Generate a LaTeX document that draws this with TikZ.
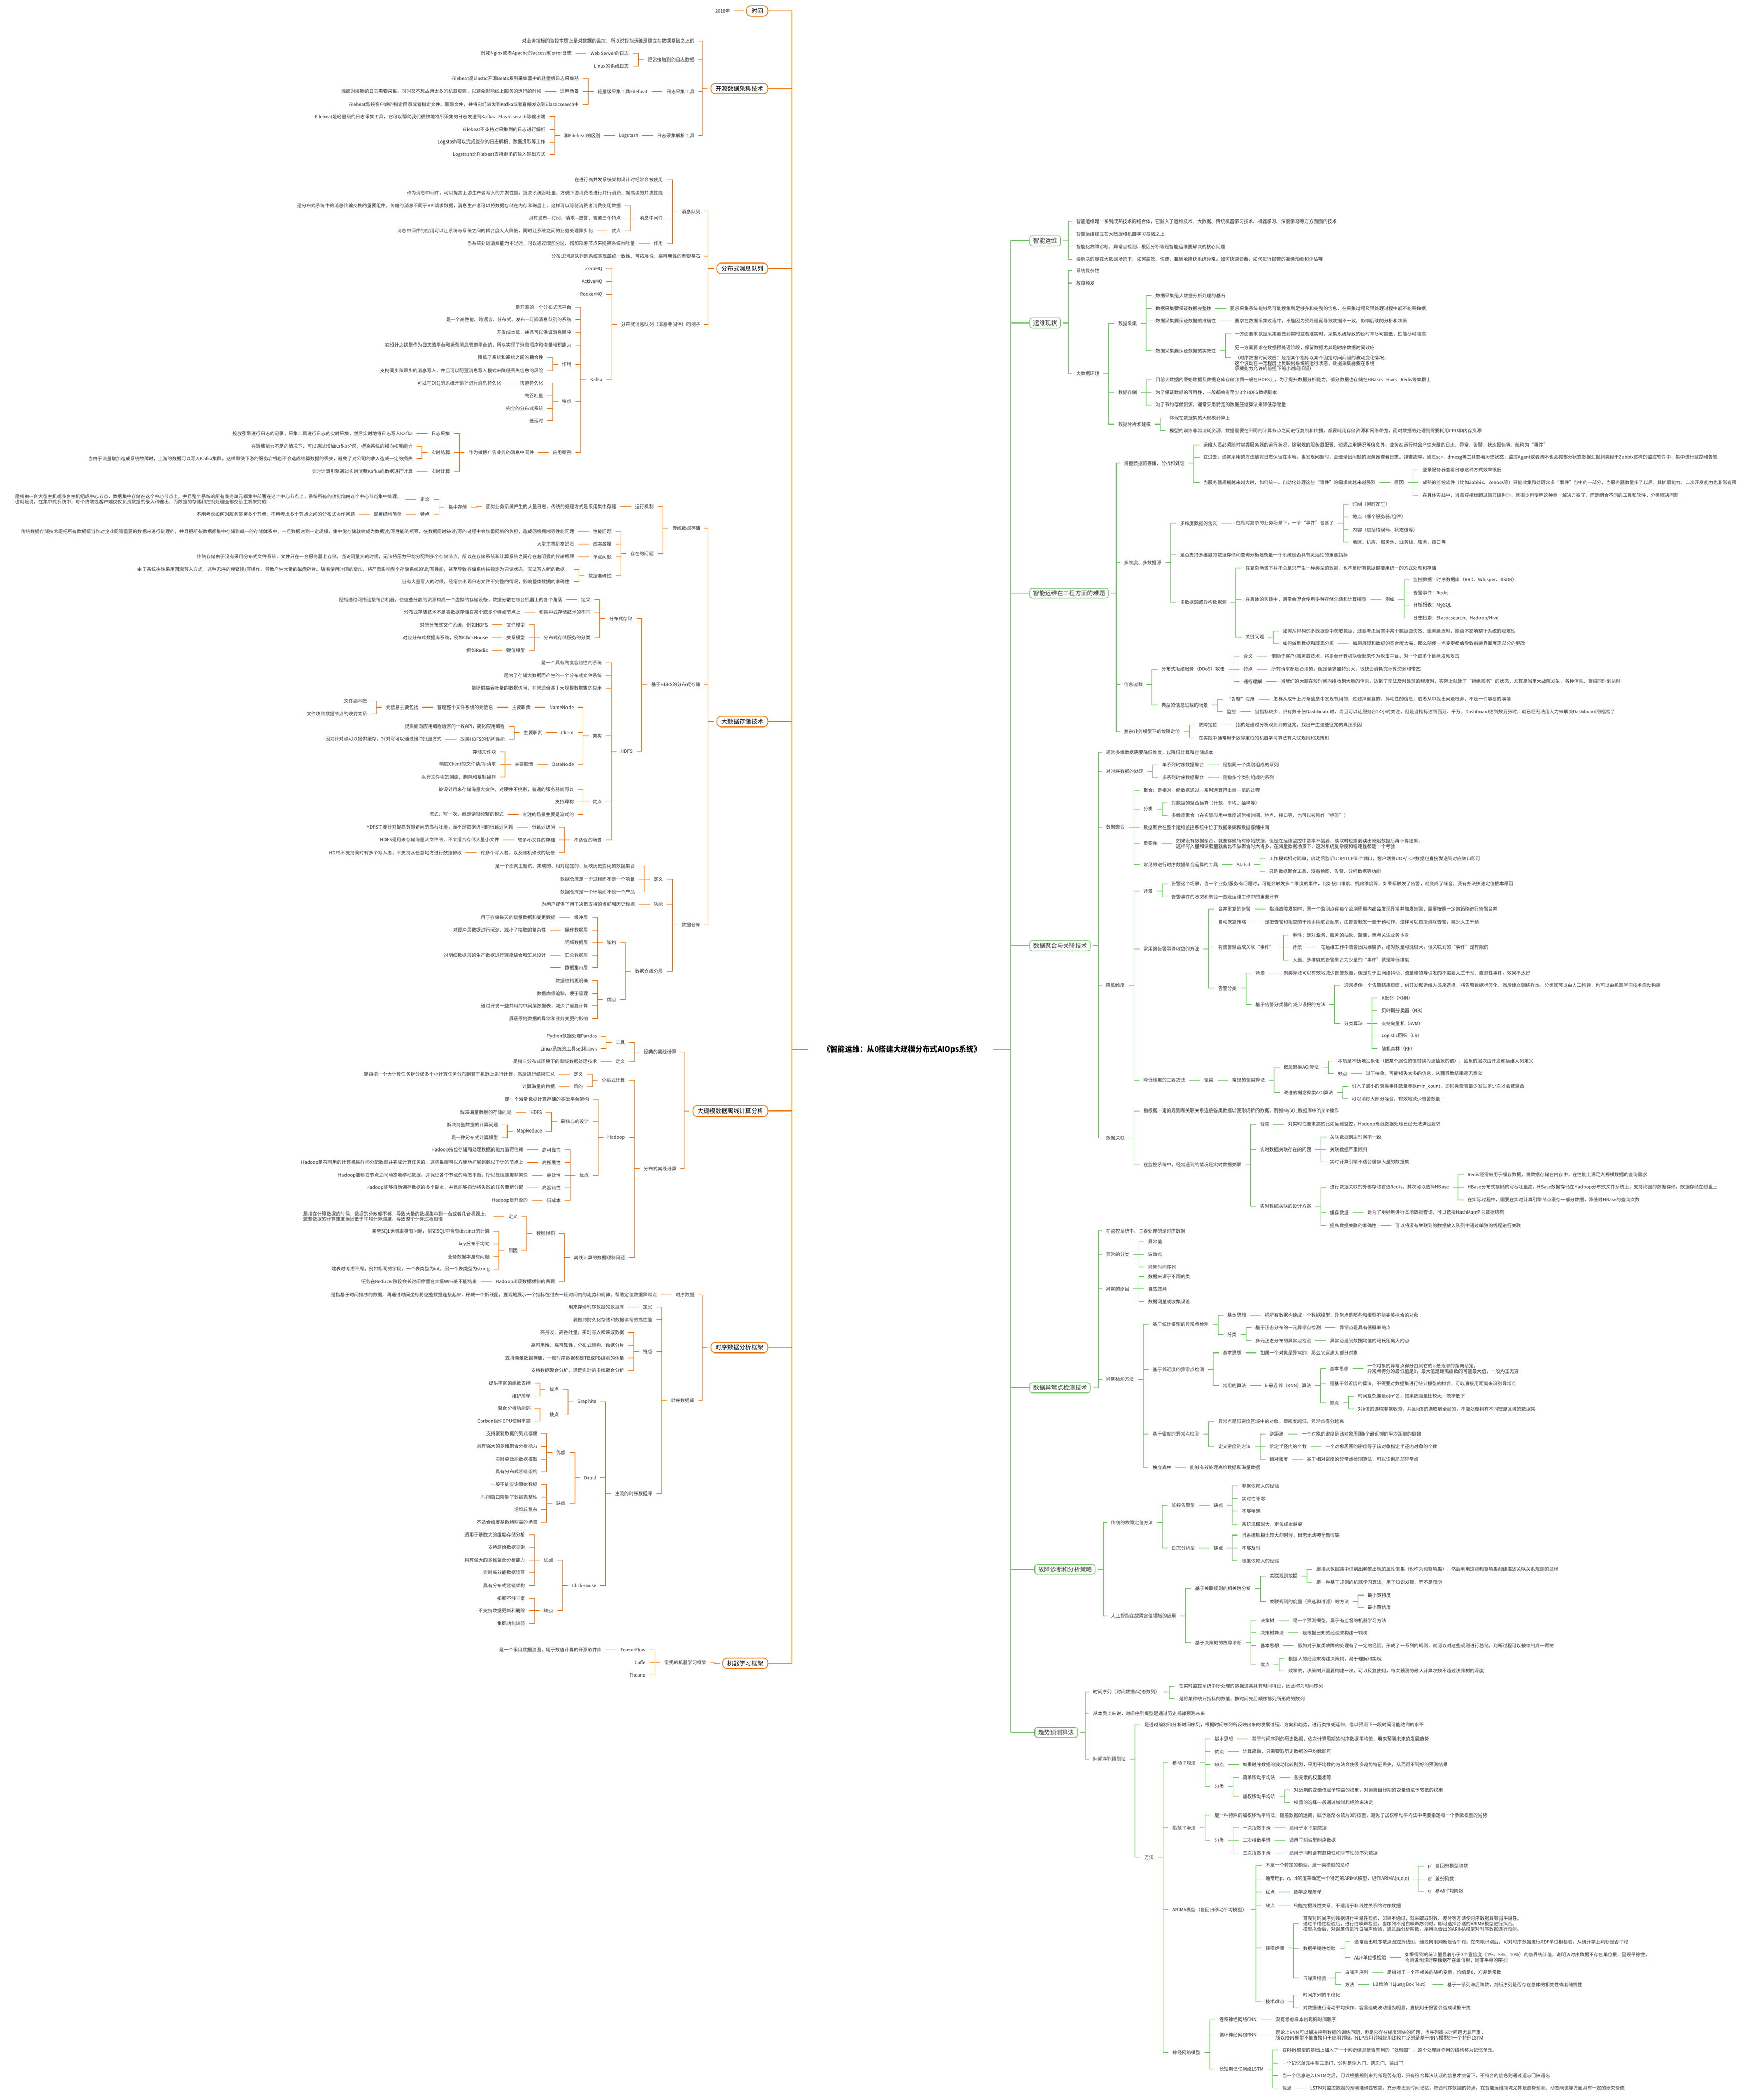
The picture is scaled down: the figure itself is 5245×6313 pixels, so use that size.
\documentclass[tikz,border=0pt]{standalone}
\usepackage{fontspec}
\setmainfont{Noto Sans CJK SC}
\usetikzlibrary{calc}
\definecolor{org}{HTML}{F07F1F}
\definecolor{grn}{HTML}{78C86E}
\definecolor{txt}{HTML}{333333}
\tikzset{
  lt/.style={inner sep=0pt, font=\fontsize{14}{16}\selectfont, text=txt, align=left},
  ocon/.style={draw=org, line width=2pt},
  gcon/.style={draw=grn, line width=2pt},
  otrunk/.style={draw=org, line width=2.5pt},
  gtrunk/.style={draw=grn, line width=2.5pt},
  lbox/.style={draw=org, line width=2.5pt, rounded corners=13pt, fill=white, font=\fontsize{18}{20}\selectfont, inner xsep=14pt, inner ysep=0pt, minimum height=32pt, text=black},
  rbox/.style={draw=grn, line width=2pt, rounded corners=7pt, fill=white, font=\fontsize{18}{20}\selectfont, inner xsep=10pt, inner ysep=0pt, minimum height=30pt, text=txt},
  titlenode/.style={font=\fontsize{22}{24}\selectfont\bfseries, text=black, inner sep=0pt}
}
\newcommand\lchild[5][56]{%
  \coordinate (tmpy) at (0,#4);
  \path (#3.west) ++(-#1,0) coordinate (tmpx);
  \node[lt,anchor=east] (#2) at (tmpx |- tmpy) {#5};
  \draw[ocon] (#3.west) ++(-#1/2+16,0) -- ++(-16,0) |- ($(#2.east)+(12,0)$);
}
\newcommand\rchild[5][56]{%
  \coordinate (tmpy) at (0,#4);
  \path (#3.east) ++(#1,0) coordinate (tmpx);
  \node[lt,anchor=west] (#2) at (tmpx |- tmpy) {#5};
  \draw[gcon] (#3.east) ++(#1/2-16,0) -- ++(16,0) |- ($(#2.west)+(-12,0)$);
}
\begin{document}
\begin{tikzpicture}[x=1pt,y=-1pt]
\useasboundingbox (0,0) rectangle (5245,6313);
\fill[white] (0,0) rectangle (5245,6313);

% ---------- root and trunks ----------
\node[titlenode] (root) at (2712,3155) {《智能运维：从0搭建大规模分布式AIOps系统》};
\draw[otrunk] (2380,33) -- (2380,5000);
\draw[gtrunk] (3039,724) -- (3039,5208);
\draw[otrunk] ($(root.west)+(-45,0)$) -- (2380,3155);
\draw[gtrunk] ($(root.east)+(38,0)$) -- (3039,3155);

% ---------- left branches ----------
\node[lbox,anchor=east] (Lt) at (2310,33) {时间};
\node[lbox,anchor=east] (La) at (2310,266) {开源数据采集技术};
\node[lbox,anchor=east] (Lb) at (2310,807) {分布式消息队列};
\node[lbox,anchor=east] (Lc) at (2310,2169) {大数据存储技术};
\node[lbox,anchor=east] (Ld) at (2310,3340) {大规模数据离线计算分析};
\node[lbox,anchor=east] (Le) at (2310,4051) {时序数据分析框架};
\node[lbox,anchor=east] (Lf) at (2310,5000) {机器学习框架};
\foreach \n in {Lt,La,Lb,Lc,Ld,Le,Lf}{\draw[otrunk] (\n.east) -- (\n.east -| 2380,0);}

\lchild[48]{t1}{Lt}{33}{2018年}

% 开源数据采集技术
\lchild[48]{a1}{La}{123}{对业务指标的监控本质上是对数据的监控，所以说智能运维是建立在数据基础之上的}
\lchild[48]{a2}{La}{180}{经常接触到的日志数据}
\lchild{a21}{a2}{161}{Web Server的日志}
\lchild{a211}{a21}{161}{例如Nginx或者Apache的access和error日志}
\lchild{a22}{a2}{199}{Linux的系统日志}
\lchild[48]{a3}{La}{275}{日志采集工具}
\lchild{a31}{a3}{275}{轻量级采集工具Filebeat}
\lchild{a311}{a31}{237}{Filebeat是Elastic开源Beats系列采集器中的轻量级日志采集器}
\lchild{a312}{a31}{275}{适用场景}
\lchild{a3121}{a312}{275}{当面对海量的日志需要采集，同时又不想占用太多的机器资源，以避免影响线上服务的运行的时候}
\lchild{a313}{a31}{313}{Filebeat监控客户端的指定目录或者指定文件、跟踪文件，并将它们转发到Kafka或者直接发送到Elasticsearch中}
\lchild[48]{a4}{La}{408}{日志采集解析工具}
\lchild{a41}{a4}{408}{Logstash}
\lchild{a411}{a41}{408}{和Filebeat的区别}
\lchild{a4111}{a411}{351}{Filebeat是轻量级的日志采集工具，它可以帮助我们很快地将所采集的日志发送到Kafka、Elasticserach等输出端}
\lchild{a4112}{a411}{389}{Filebeat不支持对采集到的日志进行解析}
\lchild{a4113}{a411}{427}{Logstash可以完成复杂的日志解析、数据提取等工作}
\lchild{a4114}{a411}{465}{Logstash比Filebeat支持更多的输入输出方式}

% 分布式消息队列
\lchild[48]{b1}{Lb}{637}{消息队列}
\lchild{b11}{b1}{541}{在进行高并发系统架构设计时经常会被使用}
\lchild{b12}{b1}{580}{作为消息中间件，可以提高上游生产者写入的并发性能，提高系统吞吐量，方便下游消费者进行并行消费，提高读的并发性能}
\lchild{b13}{b1}{656}{消息中间件}
\lchild{b131}{b13}{618}{是分布式系统中的消息传输交换的重要组件，传输的消息不同于API请求数据，消息生产者可以将数据存储在内存和磁盘上，这样可以等待消费者消费使用数据}
\lchild{b132}{b13}{656}{具有发布—订阅、请求—应答、管道三个特点}
\lchild{b133}{b13}{694}{优点}
\lchild{b1331}{b133}{694}{消息中间件的应用可以让系统与系统之间的耦合度大大降低，同时让系统之间的业务处理异步化}
\lchild{b14}{b1}{732}{作用}
\lchild{b141}{b14}{732}{当系统处理消费能力不足时，可以通过增加分区、增加部署节点来提高系统吞吐量}
\lchild[48]{b2}{Lb}{770}{分布式消息队列是系统实现最终一致性、可拓展性、高可用性的重要基石}
\lchild[48]{b3}{Lb}{975}{分布式消息队列（消息中间件）的例子}
\lchild{b31}{b3}{808}{ZeroMQ}
\lchild{b32}{b3}{847}{ActiveMQ}
\lchild{b33}{b3}{885}{RockerMQ}
\lchild{b34}{b3}{1141}{Kafka}
\lchild{k1}{b34}{923}{是开源的一个分布式流平台}
\lchild{k2}{b34}{961}{是一个高性能、跨语言、分布式、发布—订阅消息队列的系统}
\lchild{k3}{b34}{999}{开发成本低，并且可以保证消息顺序}
\lchild{k4}{b34}{1037}{在设计之初是作为日志流平台和运营消息管道平台的，所以实现了消息顺序和海量堆积能力}
\lchild{k5}{b34}{1095}{作用}
\lchild{k51}{k5}{1075}{降低了系统和系统之间的耦合性}
\lchild{k52}{k5}{1114}{支持同步和异步的消息写入，并且可以配置消息写入模式来降低丢失信息的风险}
\lchild{k6}{b34}{1208}{特点}
\lchild{k61}{k6}{1152}{快速持久化}
\lchild{k611}{k61}{1152}{可以在O(1)的系统开销下进行消息持久化}
\lchild{k62}{k6}{1190}{高吞吐量}
\lchild{k63}{k6}{1227}{完全的分布式系统}
\lchild{k64}{k6}{1265}{低延时}
\lchild{k7}{b34}{1360}{应用案例}
\lchild{k71}{k7}{1360}{作为微博广告业务的消息中间件}
\lchild{k711}{k71}{1303}{日志采集}
\lchild{k7111}{k711}{1303}{投放引擎进行日志的记录，采集工具进行日志的实时采集，然后实时地将日志写入Kafka}
\lchild{k712}{k71}{1360}{实时结算}
\lchild{k7121}{k712}{1341}{在消费能力不足的情况下，可以通过增加Kafka分区，提高系统的横向拓展能力}
\lchild{k7122}{k712}{1379}{当由于流量增加造成系统故障时，上游的数据可以写入Kafka集群，这样即使下游的服务宕机也不会造成结算数据的丢失，避免了对公司的收入造成一定的损失}
\lchild{k713}{k71}{1417}{实时计算}
\lchild{k7131}{k713}{1417}{实时计算引擎通过实时消费Kafka的数据进行计算}

% 大数据存储技术
\lchild[48]{c1}{Lc}{1587}{传统数据存储}
\lchild{c11}{c1}{1523}{运行机制}
\lchild{c111}{c11}{1523}{面对业务系统产生的大量日志，传统的处理方式是采用集中存储}
\lchild{c1111}{c111}{1524}{集中存储}
\lchild{c11111}{c1111}{1501}{定义}
\lchild{c111111}{c11111}{1501}{是指由一台大型主机或多台主机组成中心节点，数据集中存储在这个中心节点上，并且整个系统的所有业务单元都集中部署在这个中心节点上，系统所有的功能均由这个中心节点集中处理。\\也就是说，在集中式系统中，每个终端或客户端仅仅负责数据的录入和输出，而数据的存储和控制处理全部交给主机来完成}
\lchild{c11112}{c1111}{1546}{特点}
\lchild{c111121}{c11112}{1546}{部署结构简单}
\lchild{c1111211}{c111121}{1546}{不用考虑如何对服务部署多个节点，不用考虑多个节点之间的分布式协作问题}
\lchild{c12}{c1}{1664}{存在的问题}
\lchild{c121}{c12}{1598}{性能问题}
\lchild{c1211}{c121}{1598}{传统数据存储技术是把所有数据都当作对企业同等重要的数据来进行处理的，并且把所有数据都集中存储到单一的存储体系中，一旦数据达到一定规模，集中化存储就会成为数据读/写性能的瓶颈，在数据同时被读/写的过程中会加重网络的负担，造成网络拥堵等性能问题}
\lchild{c122}{c12}{1636}{成本激增}
\lchild{c1221}{c122}{1636}{大型主机价格昂贵}
\lchild{c123}{c12}{1674}{单点问题}
\lchild{c1231}{c123}{1674}{传统存储由于没有采用分布式文件系统，文件只在一台服务器上存储，当访问量大的时候，无法将压力平均分配到多个存储节点，所以在存储系统和计算系统之间存在着明显的传输瓶颈}
\lchild{c124}{c12}{1731}{数据准确性}
\lchild{c1241}{c124}{1712}{由于系统往往采用回滚写入方式，这种无序的频繁读/写操作，导致产生大量的磁盘碎片。随着使用时间的增加，将严重影响整个存储系统的读/写性能，甚至导致存储系统被锁定为只读状态，无法写入新的数据。}
\lchild{c1242}{c124}{1749}{当有大量写入的时候，经常会出现日志文件不完整的情况，影响整体数据的准确性}
\lchild[48]{c2}{Lc}{2059}{基于HDFS的分布式存储}
\lchild{c21}{c2}{1860}{分布式存储}
\lchild{c211}{c21}{1803}{定义}
\lchild{c2111}{c211}{1803}{是指通过网络连接每台机器，使这些分散的资源构成一个虚拟的存储设备，数据分散在每台机器上的各个角落}
\lchild{c212}{c21}{1840}{和集中式存储技术的不同}
\lchild{c2121}{c212}{1840}{分布式存储技术不是将数据存储在某个或多个特点节点上}
\lchild{c213}{c21}{1917}{分布式存储服务的分类}
\lchild{c2131}{c213}{1879}{文件模型}
\lchild{c21311}{c2131}{1879}{对应分布式文件系统，例如HDFS}
\lchild{c2132}{c213}{1917}{关系模型}
\lchild{c21321}{c2132}{1917}{对应分布式数据库系统，例如ClickHouse}
\lchild{c2133}{c213}{1955}{键值模型}
\lchild{c21331}{c2133}{1955}{例如Redis}
\lchild{c22}{c2}{2258}{HDFS}
\lchild{h1}{c22}{1993}{是一个具有高度容错性的系统}
\lchild{h2}{c22}{2031}{是为了存储大数据而产生的一个分布式文件系统}
\lchild{h3}{c22}{2068}{能提供高吞吐量的数据访问，非常适合基于大规模数据集的应用}
\lchild{h4}{c22}{2212}{架构}
\lchild{h41}{h4}{2126}{NameNode}
\lchild{h411}{h41}{2126}{主要职责}
\lchild{h4111}{h411}{2126}{管理整个文件系统的元信息}
\lchild{h41111}{h4111}{2126}{元信息主要包括}
\lchild{h411111}{h41111}{2108}{文件副本数}
\lchild{h411112}{h41111}{2146}{文件块到数据节点的映射关系}
\lchild{h42}{h4}{2202}{Client}
\lchild{h421}{h42}{2202}{主要职责}
\lchild{h4211}{h421}{2184}{提供面向应用编程语言的一致API，简化应用编程}
\lchild{h4212}{h421}{2222}{改善HDFS的访问性能}
\lchild{h42121}{h4212}{2222}{因为针对读可以提供缓存，针对写可以通过缓冲批量方式}
\lchild{h43}{h4}{2298}{DataNode}
\lchild{h431}{h43}{2298}{主要职责}
\lchild{h4311}{h431}{2260}{存储文件块}
\lchild{h4312}{h431}{2298}{响应Client的文件读/写请求}
\lchild{h4313}{h431}{2336}{执行文件块的创建、删除和复制操作}
\lchild{h5}{c22}{2411}{优点}
\lchild{h51}{h5}{2373}{被设计用来存储海量大文件，对硬件不挑剔，普通的服务器就可以}
\lchild{h52}{h5}{2411}{支持异构}
\lchild{h53}{h5}{2448}{专注的场景主要是流式的}
\lchild{h531}{h53}{2448}{流式：写一次，但是读很频繁的模式}
\lchild{h6}{c22}{2525}{不适合的场景}
\lchild{h61}{h6}{2487}{低延迟访问}
\lchild{h611}{h61}{2487}{HDFS主要针对提高数据访问的高吞吐量，而不是数据访问的低延迟问题}
\lchild{h62}{h6}{2525}{较多小文件的存储}
\lchild{h621}{h62}{2525}{HDFS是用来存储海量大文件的，不太适合存储大量小文件}
\lchild{h63}{h6}{2563}{有多个写入者，以及随机修改的场景}
\lchild{h631}{h63}{2563}{HDFS不支持同时有多个写入者，不支持从任意地方进行数据修改}
\lchild[48]{c3}{Lc}{2781}{数据仓库}
\lchild{c31}{c3}{2643}{定义}
\lchild{c311}{c31}{2604}{是一个面向主题的、集成的、相对稳定的、反映历史变化的数据集合}
\lchild{c312}{c31}{2643}{数据仓库是一个过程而不是一个项目}
\lchild{c313}{c31}{2681}{数据仓库是一个环境而不是一个产品}
\lchild{c32}{c3}{2719}{功能}
\lchild{c321}{c32}{2719}{为用户提供了用于决策支持的当前和历史数据}
\lchild{c33}{c3}{2919}{数据仓库分层}
\lchild{c331}{c33}{2834}{架构}
\lchild{c3311}{c331}{2758}{缓冲层}
\lchild{c33111}{c3311}{2758}{用于存储每天的增量数据和变更数据}
\lchild{c3312}{c331}{2796}{操作数据层}
\lchild{c33121}{c3312}{2796}{对缓冲层数据进行沉淀，减小了抽取的复杂性}
\lchild{c3313}{c331}{2834}{明细数据层}
\lchild{c3314}{c331}{2872}{汇总数据层}
\lchild{c33141}{c3314}{2872}{对明细数据层的生产数据进行轻度综合和汇总设计}
\lchild{c3315}{c331}{2909}{数据集市层}
\lchild{c33151}{c3315}{2909}{}
\lchild{c332}{c33}{3005}{优点}
\lchild{c3321}{c332}{2948}{数据结构更明确}
\lchild{c3322}{c332}{2986}{数据血缘追踪，便于管理}
\lchild{c3323}{c332}{3024}{通过开发一些共用的中间层数据表，减少了重复计算}
\lchild{c3324}{c332}{3062}{屏蔽原始数据的异常和业务变更的影响}

% 大规模数据离线计算分析
\lchild[48]{d1}{Ld}{3162}{经典的离线计算}
\lchild{d11}{d1}{3134}{工具}
\lchild{d111}{d11}{3115}{Python数据处理Pandas}
\lchild{d112}{d11}{3153}{Linux系统的工具sed和awk}
\lchild{d12}{d1}{3191}{定义}
\lchild{d121}{d12}{3191}{是指非分布式环境下的离线数据处理技术}
\lchild[48]{d2}{Ld}{3514}{分布式离线计算}
\lchild{d21}{d2}{3248}{分布式计算}
\lchild{d211}{d21}{3229}{定义}
\lchild{d2111}{d211}{3229}{是指把一个大计算任务拆分成多个小计算任务分布到若干机器上进行计算，然后进行结果汇总}
\lchild{d212}{d21}{3267}{目的}
\lchild{d2121}{d212}{3267}{计算海量的数据}
\lchild{d22}{d2}{3419}{Hadoop}
\lchild{d221}{d22}{3305}{是一个海量数据计算存储的基础平台架构}
\lchild{d222}{d22}{3372}{最核心的设计}
\lchild{d2221}{d222}{3344}{HDFS}
\lchild{d22211}{d2221}{3344}{解决海量数据的存储问题}
\lchild{d2222}{d222}{3401}{MapReduce}
\lchild{d22221}{d2222}{3382}{解决海量数据的计算问题}
\lchild{d22222}{d2222}{3420}{是一种分布式计算模型}
\lchild{d223}{d22}{3533}{优点}
\lchild{d2231}{d223}{3457}{高可靠性}
\lchild{d22311}{d2231}{3457}{Hadoop按位存储和处理数据的能力值得信赖}
\lchild{d2232}{d223}{3495}{高拓展性}
\lchild{d22321}{d2232}{3495}{Hadoop是在可用的计算机集群间分配数据并完成计算任务的，这些集群可以方便地扩展到数以千计的节点上}
\lchild{d2233}{d223}{3533}{高效性}
\lchild{d22331}{d2233}{3533}{Hadoop能够在节点之间动态地移动数据，并保证各个节点的动态平衡，所以处理速度非常快}
\lchild{d2234}{d223}{3571}{高容错性}
\lchild{d22341}{d2234}{3571}{Hadoop能够自动保存数据的多个副本，并且能够自动将失败的任务重新分配}
\lchild{d2235}{d223}{3609}{低成本}
\lchild{d22351}{d2235}{3609}{Hadoop是开源的}
\lchild{d23}{d2}{3780}{离线计算的数据倾斜问题}
\lchild{d231}{d23}{3707}{数据倾斜}
\lchild{d2311}{d231}{3657}{定义}
\lchild{d23111}{d2311}{3657}{是指在计算数据的时候，数据的分散度不够，导致大量的数据集中到一台或者几台机器上，\\这些数据的计算速度远远低于平均计算速度，导致整个计算过程很慢}
\lchild{d2312}{d231}{3759}{原因}
\lchild{d23121}{d2312}{3702}{某些SQL语句本身有问题，例如SQL中含有distinct的计算}
\lchild{d23122}{d2312}{3740}{key分布不均匀}
\lchild{d23123}{d2312}{3778}{业务数据本身有问题}
\lchild{d23124}{d2312}{3816}{建表时考虑不周，例如相同的字段，一个表类型为int，另一个表类型为string}
\lchild{d232}{d23}{3853}{Hadoop出现数据倾斜的表现}
\lchild{d2321}{d232}{3853}{任务在Reducer阶段会长时间停留在大概99\%处不能结束}

% 时序数据分析框架
\lchild[48]{e1}{Le}{3892}{时序数据}
\lchild{e11}{e1}{3892}{是指基于时间排序的数据，再通过时间坐标将这些数据连接起来，形成一个折线图，直观地展示一个指标在过去一段时间内的走势和规律，帮助定位数据异常点}
\lchild[48]{e2}{Le}{4210}{时序数据库}
\lchild{e21}{e2}{3930}{定义}
\lchild{e211}{e21}{3930}{用来存储时序数据的数据库}
\lchild{e22}{e2}{3967}{要做到持久化存储和数据读写的高性能}
\lchild{e23}{e2}{4063}{特点}
\lchild{e231}{e23}{4006}{高并发、高吞吐量，实时写入和读取数据}
\lchild{e232}{e23}{4044}{高可用性、高可靠性，分布式架构、数据分片}
\lchild{e233}{e23}{4082}{支持海量数据存储，一般时序数据都是TB或PB级别的体量}
\lchild{e234}{e23}{4120}{支持数据聚合分析，满足实时的多维聚合分析}
\lchild{e24}{e2}{4490}{主流的时序数据库}
\lchild{g1}{e24}{4214}{Graphite}
\lchild{g11}{g1}{4177}{优点}
\lchild{g111}{g11}{4158}{提供丰富的函数支持}
\lchild{g112}{g11}{4196}{维护简单}
\lchild{g12}{g1}{4253}{缺点}
\lchild{g121}{g12}{4234}{聚合分析功能弱}
\lchild{g122}{g12}{4272}{Carbon组件CPU使用率高}
\lchild{g2}{e24}{4442}{Druid}
\lchild{g21}{g2}{4367}{优点}
\lchild{g211}{g21}{4310}{支持嵌套数据的列式存储}
\lchild{g212}{g21}{4348}{具有强大的多维聚合分析能力}
\lchild{g213}{g21}{4386}{实时高效能数据摄取}
\lchild{g214}{g21}{4425}{具有分布式容错架构}
\lchild{g22}{g2}{4519}{缺点}
\lchild{g221}{g22}{4462}{一般不能查询原始数据}
\lchild{g222}{g22}{4500}{时间窗口限制了数据完整性}
\lchild{g223}{g22}{4538}{运维较复杂}
\lchild{g224}{g22}{4576}{不适合维度基数特别高的场景}
\lchild{g3}{e24}{4766}{ClickHouse}
\lchild{g31}{g3}{4690}{优点}
\lchild{g311}{g31}{4614}{适用于基数大的维度存储分析}
\lchild{g312}{g31}{4652}{支持原始数据查询}
\lchild{g313}{g31}{4690}{具有强大的多维聚合分析能力}
\lchild{g314}{g31}{4728}{实时高效能数据读写}
\lchild{g315}{g31}{4766}{具有分布式容错架构}
\lchild{g32}{g3}{4842}{缺点}
\lchild{g321}{g32}{4804}{拓展不够丰富}
\lchild{g322}{g32}{4842}{不支持数据更新和删除}
\lchild{g323}{g32}{4880}{集群功能较弱}

% 机器学习框架
\lchild[48]{f1}{Lf}{4998}{常见的机器学习框架}
\lchild{f11}{f1}{4960}{TensorFlow}
\lchild{f111}{f11}{4960}{是一个采用数据流图，用于数值计算的开源软件库}
\lchild{f12}{f1}{4998}{Caffe}
\lchild{f13}{f1}{5036}{Theano}

% ---------- right branches ----------
\node[rbox,anchor=west] (Ra) at (3095,724) {智能运维};
\node[rbox,anchor=west] (Rb) at (3095,971) {运维现状};
\node[rbox,anchor=west] (Rc) at (3095,1783) {智能运维在工程方面的难题};
\node[rbox,anchor=west] (Rd) at (3095,2843) {数据聚合与关联技术};
\node[rbox,anchor=west] (Re) at (3095,4172) {数据异常点检测技术};
\node[rbox,anchor=west] (Rf) at (3110,4718) {故障诊断和分析策略};
\node[rbox,anchor=west] (Rg) at (3110,5208) {趋势预测算法};
\foreach \n in {Ra,Rb,Rc,Rd,Re,Rf,Rg}{\draw[gtrunk] (\n.west -| 3039,0) -- (\n.west);}

% 智能运维
\rchild[46]{ra1}{Ra}{666}{智能运维是一系列成熟技术的结合体，它融入了运维技术、大数据、传统机器学习技术、机器学习、深度学习等方方面面的技术}
\rchild[46]{ra2}{Ra}{704}{智能运维建立在大数据和机器学习基础之上}
\rchild[46]{ra3}{Ra}{742}{智能化故障诊断、异常点检测、根因分析等是智能运维要解决的核心问题}
\rchild[46]{ra4}{Ra}{780}{要解决的是在大数据场景下，如何高效、快速、准确地捕获系统异常，如何快速诊断，如何进行报警的准确预测和评估等}

% 运维现状
\rchild[46]{rb1}{Rb}{813}{系统复杂性}
\rchild[46]{rb2}{Rb}{851}{故障频发}
\rchild[46]{rb3}{Rb}{1123}{大数据环境}
\rchild{rb31}{rb3}{972}{数据采集}
\rchild{rb311}{rb31}{889}{数据采集是大数据分析处理的基石}
\rchild{rb312}{rb31}{927}{数据采集要保证数据完整性}
\rchild{rb3121}{rb312}{927}{要求采集系统能够尽可能搜集到足够多和完整的信息，在采集过程及预处理过程中都不能丢数据}
\rchild{rb313}{rb31}{965}{数据采集要保证数据的准确性}
\rchild{rb3131}{rb313}{965}{要求在数据采集过程中，不能因为预处理而导致数据不一致，影响后续的分析和决策}
\rchild{rb314}{rb31}{1054}{数据采集要保证数据的实效性}
\rchild{rb3141}{rb314}{1004}{一方面要求数据采集要做到实时或者准实时，采集系统导致的延时率尽可能低，性能尽可能高}
\rchild{rb3142}{rb314}{1076}{另一方面要求在数据预处理阶段，保留数据尤其是时序数据时间效应\\[16pt]（时序数据时间效应：是指某个指标以某个固定时间间隔的波动变化情况，\\这个波动在一定程度上反映出系统的运行状态，数据采集器要在系统\\承载能力允许的前提下缩小时间间隔）}
\rchild{rb32}{rb3}{1180}{数据存储}
\rchild{rb321}{rb32}{1142}{目前大数据的原始数据及数据仓库存储介质一般在HDFS上，为了提升数据分析能力，部分数据也存储在HBase、Hive、Redis等集群上}
\rchild{rb322}{rb32}{1180}{为了保证数据的可用性，一般都会有至少3个HDFS数据副本}
\rchild{rb323}{rb32}{1217}{为了节约存储资源，通常采用特定的数据压缩算法来降低存储量}
\rchild{rb33}{rb3}{1275}{数据分析和建模}
\rchild{rb331}{rb33}{1257}{体现在数据集的大规模计算上}
\rchild{rb332}{rb33}{1294}{模型的训练非常消耗资源，数据需要在不同的计算节点之间进行复制和传播，都要耗用存储资源和网络带宽，而对数据的处理则需要耗用CPU和内存资源}

% 智能运维在工程方面的难题
\rchild[46]{rc1}{Rc}{1393}{海量数据的存储、分析和处理}
\rchild{rc11}{rc1}{1337}{运维人员必须随时掌握服务器的运行状况，除常规的服务器配置、资源占用情况等信息外，业务在运行时会产生大量的日志、异常、告警、状态报告等，统称为“事件”}
\rchild{rc12}{rc1}{1375}{在过去，通常采用的方法是将日志保留在本地，当发现问题时，会登录出问题的服务器查看日志、排查故障，通过sar、dmesg等工具查看历史状态，监控Agent或者脚本也会将部分状态数据汇报到类似于Zabbix这样的监控软件中，集中进行监控和告警}
\rchild{rc13}{rc1}{1451}{当服务器规模越来越大时，如何统一、自动化处理这些“事件”的需求就越来越强烈}
\rchild{rc131}{rc13}{1451}{原因}
\rchild{rc1311}{rc131}{1412}{登录服务器查看日志这种方式效率很低}
\rchild{rc1312}{rc131}{1451}{成熟的监控软件（比如Zabbix、Zenoss等）只能收集和处理众多“事件”当中的一部分，当服务器数量多了以后，其扩展能力、二次开发能力也非常有限}
\rchild{rc1313}{rc131}{1489}{在具体实践中，当监控指标超过百万级别时，就很少再使用这种单一解决方案了，而是组合不同的工具和软件，分类解决问题}
\rchild[46]{rc2}{Rc}{1692}{多维度、多数据源}
\rchild{rc21}{rc2}{1573}{多维度数据的含义}
\rchild{rc211}{rc21}{1573}{在相对复杂的业务场景下，一个“事件”包含了}
\rchild{rc2111}{rc211}{1516}{时间（何时发生）}
\rchild{rc2112}{rc211}{1554}{地点（哪个服务器/组件）}
\rchild{rc2113}{rc211}{1592}{内容（包括错误码、状态值等）}
\rchild{rc2114}{rc211}{1630}{地区、机房、服务池、业务线、服务、接口等}
\rchild{rc22}{rc2}{1668}{是否支持多维度的数据存储和查询分析是衡量一个系统是否具有灵活性的重要指标}
\rchild{rc23}{rc2}{1811}{多数据源或异构数据源}
\rchild{rc231}{rc23}{1707}{在复杂场景下并不总是只产生一种类型的数据，也不是所有数据都要用统一的方式处理和存储}
\rchild{rc232}{rc23}{1802}{在具体的实践中，通常会混合使用多种存储介质和计算模型}
\rchild{rc2321}{rc232}{1802}{例如}
\rchild{rc23211}{rc2321}{1744}{监控数据：时序数据库（RRD、Whisper、TSDB）}
\rchild{rc23212}{rc2321}{1782}{告警事件：Redis}
\rchild{rc23213}{rc2321}{1820}{分析报表：MySQL}
\rchild{rc23214}{rc2321}{1858}{日志检索：Elasticsearch、Hadoop/Hive}
\rchild{rc233}{rc23}{1915}{关键问题}
\rchild{rc2331}{rc233}{1897}{如何从异构的多数据源中获取数据，还要考虑当其中某个数据源失效、服务延迟时，能否不影响整个系统的稳定性}
\rchild{rc2332}{rc233}{1935}{如何做到数据和展现分离}
\rchild{rc23321}{rc2332}{1935}{如果展现和数据的契合度太高，那么随便一点变更都会导致前端界面展现部分的更改}
\rchild[46]{rc3}{Rc}{2058}{信息过载}
\rchild{rc31}{rc3}{2011}{分布式拒绝服务（DDoS）攻击}
\rchild{rc311}{rc31}{1973}{含义}
\rchild{rc3111}{rc311}{1973}{借助于客户/服务器技术，将多台计算机联合起来作为攻击平台，对一个或多个目标发动攻击}
\rchild{rc312}{rc31}{2011}{特点}
\rchild{rc3121}{rc312}{2011}{所有请求都是合法的，但是请求量特别大，很快会消耗完计算资源和带宽}
\rchild{rc313}{rc31}{2049}{通俗理解}
\rchild{rc3131}{rc313}{2049}{当我们的大脑在短时间内接收到大量的信息，达到了无法及时处理的程度时，实际上就处于“拒绝服务”的状态，尤其是当重大故障发生，各种信息、警报同时到达时}
\rchild{rc32}{rc3}{2120}{典型的信息过载的场景}
\rchild{rc321}{rc32}{2102}{“告警”应用}
\rchild{rc3211}{rc321}{2102}{怎样从成千上万条信息中发现有用的，过滤掉重复的、抖动性的信息，或者从中找出问题根源，不是一件容易的事情}
\rchild{rc322}{rc32}{2139}{监控}
\rchild{rc3221}{rc322}{2139}{当指标较少、只有数十张Dashboard时，尚且可以让服务台24小时关注，但是当指标达到百万、千万，Dashboard达到数万张时，就已经无法用人力来解决Dashboard的巡检了}
\rchild[46]{rc4}{Rc}{2199}{复杂业务模型下的故障定位}
\rchild{rc41}{rc4}{2180}{故障定位}
\rchild{rc411}{rc41}{2180}{指的是通过分析观测到的征兆，找出产生这些征兆的真正原因}
\rchild{rc42}{rc4}{2219}{在实践中通常用于故障定位的机器学习算法有关联规则和决策树}

% 数据聚合与关联技术
\rchild[46]{rd1}{Rd}{2262}{通常多维数据需要降低维度，以降低计算和存储成本}
\rchild[46]{rd2}{Rd}{2318}{对时序数据的处理}
\rchild{rd21}{rd2}{2300}{单系列时序数据聚合}
\rchild{rd211}{rd21}{2300}{是指同一个类别组成的系列}
\rchild{rd22}{rd2}{2338}{多系列时序数据聚合}
\rchild{rd221}{rd22}{2338}{是指多个类别组成的系列}
\rchild[46]{rd3}{Rd}{2487}{数据聚合}
\rchild{rd31}{rd3}{2375}{聚合：是指对一组数据通过一系列运算得出单一值的过程}
\rchild{rd32}{rd3}{2432}{分类}
\rchild{rd321}{rd32}{2414}{对数据的聚合运算（计数、平均、抽样等）}
\rchild{rd322}{rd32}{2451}{多维度聚合（在实际应用中维度通常指时间、地点、接口等，也可以被称作“标签”）}
\rchild{rd33}{rd3}{2488}{数据聚合在整个运维监控系统中位于数据采集和数据存储中间}
\rchild{rd34}{rd3}{2536}{重要性}
\rchild{rd341}{rd34}{2536}{如果没有数据聚合，就要存储所有原始数据，但是在运维监控中基本不需要，读取时也需要读出原始数据后再计算结果，\\这样写入量和读取量就会比不做聚合时大得多，在海量数据场景下，这对系统复杂度和稳定性都是一个考验}
\rchild{rd35}{rd3}{2600}{常见的进行时序数据聚合运算的工具}
\rchild{rd351}{rd35}{2600}{Statsd}
\rchild{rd3511}{rd351}{2582}{工作模式相对简单，启动后监听UDP/TCP某个端口，客户端将UDP/TCP数据包直接发送到对应端口即可}
\rchild{rd3512}{rd351}{2619}{只是数据聚合工具，没有绘图、告警、分析数据等功能}
\rchild[46]{rd4}{Rd}{2962}{降低维度}
\rchild{rd41}{rd4}{2678}{背景}
\rchild{rd411}{rd41}{2658}{告警这个场景，当一个业务/服务有问题时，可能会触发多个维度的事件，比如接口维度、机房维度等，如果都触发了告警，就变成了噪音，没有办法快速定位根本原因}
\rchild{rd412}{rd41}{2696}{告警事件的收敛和聚合一直是运维工作中的重要环节}
\rchild{rd42}{rd4}{2853}{常用的告警事件收敛的方法}
\rchild{rd421}{rd42}{2733}{合并重复的告警}
\rchild{rd4211}{rd421}{2733}{指当故障发生时，同一个监测点在每个监测周期内都会发现异常并触发告警，需要按照一定的策略进行告警合并}
\rchild{rd422}{rd42}{2772}{自动恢复策略}
\rchild{rd4221}{rd422}{2772}{是把告警和相应的干预手段联合起来，由告警触发一些干预动作，这样可以直接消除告警，减少人工干预}
\rchild{rd423}{rd42}{2848}{将告警聚合成关联“事件”}
\rchild{rd4231}{rd423}{2811}{事件：是对业务、服务的抽象、聚焦，重点关注业务本身}
\rchild{rd4232}{rd423}{2848}{背景}
\rchild{rd42321}{rd4232}{2848}{在运维工作中告警因为维度多，绝对数量可能很大，但关联到的“事件”是有限的}
\rchild{rd4233}{rd423}{2886}{大量、多维度的告警聚合为少量的“事件”就是降低维度}
\rchild{rd424}{rd42}{2971}{告警分类}
\rchild{rd4241}{rd424}{2925}{背景}
\rchild{rd42411}{rd4241}{2925}{聚类算法可以有效地减少告警数量，但是对于由网络抖动、流量峰值等引发的不需要人工干预、自愈性事件，效果不太好}
\rchild{rd4242}{rd424}{3020}{基于告警分类器的减少误报的方法}
\rchild{rd42421}{rd4242}{2962}{通常提供一个告警结果页面，供开发和运维人员来选择，将告警数据标签化，然后建立训练样本。分类器可以由人工构建，也可以由机器学习技术自动构建}
\rchild{rd42422}{rd4242}{3077}{分类算法}
\rchild{rd424221}{rd42422}{3000}{K近邻（KNN）}
\rchild{rd424222}{rd42422}{3038}{贝叶斯分类器（NB）}
\rchild{rd424223}{rd42422}{3077}{支持向量机（SVM）}
\rchild{rd424224}{rd42422}{3114}{Logistic回归（LR）}
\rchild{rd424225}{rd42422}{3153}{随机森林（RF）}
\rchild{rd43}{rd4}{3247}{降低维度的主要方法}
\rchild{rd431}{rd43}{3247}{聚类}
\rchild{rd4311}{rd431}{3247}{常见的聚类算法}
\rchild{rd43111}{rd4311}{3209}{概念聚类AOI算法}
\rchild{rd431111}{rd43111}{3190}{本质是不断地抽象化（把某个属性的值替换为更抽象的值），抽象的层次由开发和运维人员定义}
\rchild{rd431112}{rd43111}{3227}{缺点}
\rchild{rd4311121}{rd431112}{3227}{过于抽象，可能损失太多的信息，从而导致结果毫无意义}
\rchild{rd43112}{rd4311}{3284}{改进的概念聚类AOI算法}
\rchild{rd431121}{rd43112}{3266}{引入了最小的聚类事件数量参数min\_count，即同类告警最少发生多少次才会被聚合}
\rchild{rd431122}{rd43112}{3303}{可以消除大部分噪音，有效地减少告警数量}
\rchild[46]{rd5}{Rd}{3421}{数据关联}
\rchild{rd51}{rd5}{3340}{指根据一定的规则和关联关系连接各类数据以便形成新的数据，例如MySQL数据库中的join操作}
\rchild{rd52}{rd5}{3502}{在监控系统中，经常遇到的情况是实时数据关联}
\rchild{rd521}{rd52}{3380}{背景}
\rchild{rd5211}{rd521}{3380}{对实时性要求高的比如运维监控，Hadoop离线数据处理已经无法满足要求}
\rchild{rd522}{rd52}{3456}{实时数据关联存在的问题}
\rchild{rd5221}{rd522}{3418}{关联数据到达时间不一致}
\rchild{rd5222}{rd522}{3456}{关联数据严重倾斜}
\rchild{rd5223}{rd522}{3493}{实时计算引擎不适合缓存大量的数据集}
\rchild{rd523}{rd52}{3626}{实时数据关联的设计方案}
\rchild{rd5231}{rd523}{3569}{进行数据关联的外部存储首选Redis，其次可以选择HBase}
\rchild{rd52311}{rd5231}{3531}{Redis经常被用于缓存数据，将数据存储在内存中，在性能上满足大规模数据的查询需求}
\rchild{rd52312}{rd5231}{3569}{HBase分布式存储的写吞吐量高，HBase数据存储在Hadoop分布式文件系统上，支持海量的数据存储，数据存储在磁盘上}
\rchild{rd52313}{rd5231}{3607}{在实际过程中，需要在实时计算引擎节点缓存一部分数据，降低对HBase的查询次数}
\rchild{rd5232}{rd523}{3645}{缓存数据}
\rchild{rd52321}{rd5232}{3645}{是为了更好地进行本地数据查询，可以选择HashMap作为数据结构}
\rchild{rd5233}{rd523}{3684}{提高数据关联的准确性}
\rchild{rd52331}{rd5233}{3684}{可以将没有关联到的数据放入队列中通过单独的线程进行关联}

% 数据异常点检测技术
\rchild[46]{re1}{Re}{3701}{在监控系统中，主要处理的是时序数据}
\rchild[46]{re2}{Re}{3771}{异常的分类}
\rchild{re21}{re2}{3733}{异常值}
\rchild{re22}{re2}{3771}{波动点}
\rchild{re23}{re2}{3809}{异常时间序列}
\rchild[46]{re3}{Re}{3875}{异常的原因}
\rchild{re31}{re3}{3837}{数据来源于不同的类}
\rchild{re32}{re3}{3875}{自然变异}
\rchild{re33}{re3}{3913}{数据测量或收集误差}
\rchild[46]{re4}{Re}{4146}{异常检测方法}
\rchild{re41}{re4}{3981}{基于统计模型的异常点检测}
\rchild{re411}{re41}{3954}{基本思想}
\rchild{re4111}{re411}{3954}{把所有数据构建成一个数据模型，异常点是那些和模型不能完美拟合的对象}
\rchild{re412}{re41}{4011}{分类}
\rchild{re4121}{re412}{3991}{基于正态分布的一元异常点检测}
\rchild{re41211}{re4121}{3991}{异常点是具有低概率的点}
\rchild{re4122}{re412}{4030}{多元正态分布的异常点检测}
\rchild{re41221}{re4122}{4030}{异常点是到数据均值的马氏距离大的点}
\rchild{re42}{re4}{4117}{基于邻近度的异常点检测}
\rchild{re421}{re42}{4067}{基本思想}
\rchild{re4211}{re421}{4067}{如果一个对象是异常的，那么它远离大部分对象}
\rchild{re422}{re42}{4165}{常用的算法}
\rchild{re4221}{re422}{4165}{k-最近邻（KNN）算法}
\rchild{re42211}{re4221}{4115}{基本思想}
\rchild{re422111}{re42211}{4115}{一个对象的异常点得分由到它的k-最近邻的距离给定。\\异常点得分的最低值是0，最大值是距离函数的可能最大值，一般为正无穷}
\rchild{re42212}{re4221}{4160}{是基于邻近度的算法，不需要对数据集进行统计模型的拟合，可以直接用距离来识别异常点}
\rchild{re42213}{re4221}{4217}{缺点}
\rchild{re422131}{re42213}{4197}{时间复杂度是o(n\textasciicircum 2)，如果数据量比较大，效率低下}
\rchild{re422132}{re42213}{4236}{对k值的选取非常敏感，并且k值的选取是全局的，不能处理具有不同密度区域的数据集}
\rchild{re43}{re4}{4311}{基于密度的异常点检测}
\rchild{re431}{re43}{4273}{异常点是低密度区域中的对象，即密度越低，异常点得分越高}
\rchild{re432}{re43}{4349}{定义密度的方法}
\rchild{re4321}{re432}{4311}{逆距离}
\rchild{re43211}{re4321}{4311}{一个对象的密度是该对象周围k个最近邻的平均距离的倒数}
\rchild{re4322}{re432}{4349}{给定半径内的个数}
\rchild{re43221}{re4322}{4349}{一个对象周围的密度等于该对象指定半径内对象的个数}
\rchild{re4323}{re432}{4387}{相对密度}
\rchild{re43231}{re4323}{4387}{基于相对密度的异常点检测算法，可以识别局部异常点}
\rchild{re44}{re4}{4412}{独立森林}
\rchild{re441}{re44}{4412}{能够有效处理高维数据和海量数据}

% 故障诊断和分析策略
\rchild[46]{rf1}{Rf}{4577}{传统的故障定位方法}
\rchild{rf11}{rf1}{4525}{监控告警型}
\rchild{rf111}{rf11}{4525}{缺点}
\rchild{rf1111}{rf111}{4467}{非常依赖人的经验}
\rchild{rf1112}{rf111}{4505}{实时性不够}
\rchild{rf1113}{rf111}{4543}{不够精确}
\rchild{rf1114}{rf111}{4582}{系统规模越大，定位成本越高}
\rchild{rf12}{rf1}{4654}{日志分析型}
\rchild{rf121}{rf12}{4654}{缺点}
\rchild{rf1211}{rf121}{4615}{当系统规模比较大的时候，日志无法被全部收集}
\rchild{rf1212}{rf121}{4654}{不够及时}
\rchild{rf1213}{rf121}{4692}{极度依赖人的经验}
\rchild[46]{rf2}{Rf}{4857}{人工智能在故障定位领域的应用}
\rchild{rf21}{rf2}{4775}{基于关联规则的相关性分析}
\rchild{rf211}{rf21}{4738}{关联规则挖掘}
\rchild{rf2111}{rf211}{4718}{是指从数据集中识别出频繁出现的属性值集（也称为频繁项集），然后利用这些频繁项集创建描述关联关系规则的过程}
\rchild{rf2112}{rf211}{4757}{是一种基于规则的机器学习算法，用于知识发现，而不是预测}
\rchild{rf212}{rf21}{4814}{关联规则的度量（筛选和过滤）的方法}
\rchild{rf2121}{rf212}{4795}{最小支持度}
\rchild{rf2122}{rf212}{4832}{最小置信度}
\rchild{rf22}{rf2}{4938}{基于决策树的故障诊断}
\rchild{rf221}{rf22}{4872}{决策树}
\rchild{rf2211}{rf221}{4872}{是一个预测模型，属于有监督的机器学习方法}
\rchild{rf222}{rf22}{4909}{决策树算法}
\rchild{rf2221}{rf222}{4909}{是根据已知的经验来构建一颗树}
\rchild{rf223}{rf22}{4947}{基本思想}
\rchild{rf2231}{rf223}{4947}{假如对于某类故障的处理有了一定的经验，形成了一系列的规则，就可以对这些规则进行总结，判断过程可以被绘制成一颗树}
\rchild{rf224}{rf22}{5004}{优点}
\rchild{rf2241}{rf224}{4986}{根据人的经验来构建决策树，易于理解和实现}
\rchild{rf2242}{rf224}{5023}{效率高，决策树只需要构建一次，可以反复使用，每次预测的最大计算次数不超过决策树的深度}

% 趋势预测算法
\rchild[46]{rg1}{Rg}{5087}{时间序列（时间数据/动态数列）}
\rchild{rg11}{rg1}{5069}{在实时监控系统中所处理的数据通常具有时间特征，因此称为时间序列}
\rchild{rg12}{rg1}{5106}{是将某种统计指标的数值，按时间先后顺序排列所形成的数列}
\rchild[46]{rg2}{Rg}{5152}{从本质上来说，时间序列模型是通过历史规律预测未来}
\rchild[46]{rg3}{Rg}{5288}{时间序列预测法}
\rchild{rg31}{rg3}{5185}{是通过编制和分析时间序列，根据时间序列所反映出来的发展过程、方向和趋势，进行类推或延伸，借以预测下一段时间可能达到的水平}
\rchild{rg32}{rg3}{5584}{方法}
\rchild{m1}{rg32}{5299}{移动平均法}
\rchild{m11}{m1}{5227}{基本思想}
\rchild{m111}{m11}{5227}{基于时间序列的历史数据，依次计算周期的时序数据平均值，用来预测未来的发展趋势}
\rchild{m12}{m1}{5266}{优点}
\rchild{m121}{m12}{5266}{计算简单，只需要取历史数据的平均数即可}
\rchild{m13}{m1}{5304}{缺点}
\rchild{m131}{m13}{5304}{如果时序数据的波动比较剧烈，采用平均数的方法会使很多趋势特征丢失，从而得不到好的预测结果}
\rchild{m14}{m1}{5370}{分类}
\rchild{m141}{m14}{5343}{简单移动平均法}
\rchild{m1411}{m141}{5343}{各元素的权重相等}
\rchild{m142}{m14}{5400}{加权移动平均法}
\rchild{m1421}{m142}{5381}{对近期的变量值赋予较高的权重，对远离目标期的变量值赋予较低的权重}
\rchild{m1422}{m142}{5418}{权重的选择一般通过尝试和经验来决定}
\rchild{m2}{rg32}{5495}{指数平滑法}
\rchild{m21}{m2}{5457}{是一种特殊的加权移动平均法，随着数据的远离，赋予逐渐收敛为0的权重，避免了加权移动平均法中需要指定每一个参数权重的劣势}
\rchild{m22}{m2}{5532}{分类}
\rchild{m221}{m22}{5495}{一次指数平滑}
\rchild{m2211}{m221}{5495}{适用于水平型数据}
\rchild{m222}{m22}{5532}{二次指数平滑}
\rchild{m2221}{m222}{5532}{适用于斜坡型时序数据}
\rchild{m223}{m22}{5571}{三次指数平滑}
\rchild{m2231}{m223}{5571}{适用于同时含有趋势性和季节性的序列数据}
\rchild{m3}{rg32}{5741}{ARIMA模型（自回归移动平均模型）}
\rchild{m31}{m3}{5607}{不是一个特定的模型，是一类模型的总称}
\rchild{m32}{m3}{5648}{通常用p、q、d的值来确定一个特定的ARIMA模型，记作ARIMA(p,d,q)}
\rchild{m321}{m32}{5610}{p：自回归模型阶数}
\rchild{m322}{m32}{5648}{d：差分阶数}
\rchild{m323}{m32}{5686}{q：移动平均阶数}
\rchild{m33}{m3}{5688}{优点}
\rchild{m331}{m33}{5688}{数学原理简单}
\rchild{m34}{m3}{5729}{缺点}
\rchild{m341}{m34}{5729}{只能挖掘线性关系，不适用于非线性关系的时序数据}
\rchild{m35}{m3}{5856}{建模步骤}
\rchild{m351}{m35}{5783}{首先对时间序列数据进行平稳性检验，如果不通过，就采取取对数、差分等方法使时序数据具有弱平稳性。\\通过平稳性检验后，进行白噪声检验，当序列不是白噪声序列时，即可选择合适的ARIMA模型进行拟合。\\模型拟合后，对误差值进行白噪声检验，通过后分析阶数，采用拟合出的ARIMA模型对时序数据进行预测。}
\rchild{m352}{m35}{5858}{数据平稳性检验}
\rchild{m3521}{m352}{5837}{通常画出时序散点图或折线图，通过肉眼判断是否平稳。在肉眼识别后，可对时序数据进行ADF单位根检验，从统计学上判断是否平稳}
\rchild{m3522}{m352}{5885}{ADF单位根检验}
\rchild{m35221}{m3522}{5885}{如果得到的统计量显着小于3个置信度（1\%、5\%、10\%）的临界统计值，说明该时序数据不存在单位根，呈现平稳性，\\否则说明该时序数据存在单位根，是非平稳的序列}
\rchild{m353}{m35}{5947}{白噪声检验}
\rchild{m3531}{m353}{5929}{白噪声序列}
\rchild{m35311}{m3531}{5929}{是指对于一个不相关的随机变量，均值是0，方差是常数}
\rchild{m3532}{m353}{5966}{方法}
\rchild{m35321}{m3532}{5966}{LB检验（Ljung Box Test）}
\rchild{m353211}{m35321}{5966}{基于一系列滞后阶数，判断序列是否存在总体的相关性或者随机性}
\rchild{m36}{m3}{6017}{技术难点}
\rchild{m361}{m36}{5998}{时间序列的平稳化}
\rchild{m362}{m36}{6036}{对数据进行滑动平均操作，容易造成波动锯齿明显，直接用于报警会造成误报干扰}
\rchild{m4}{rg32}{6170}{神经网络模型}
\rchild{m41}{m4}{6071}{卷积神经网络CNN}
\rchild{m411}{m41}{6071}{没有考虑样本出现的时间顺序}
\rchild{m42}{m4}{6118}{循环神经网络RNN}
\rchild{m421}{m42}{6118}{理论上RNN可以解决序列数据的训练问题，但是它存在梯度消失的问题，当序列很长时问题尤其严重，\\所以RNN模型不能直接用于应用领域。NLP应用领域应用比较广泛的是基于RNN模型的一个特例LSTM}
\rchild{m43}{m4}{6220}{长短期记忆网络LSTM}
\rchild{m431}{m43}{6163}{在RNN模型的基础上加入了一个判断信息是否有用的“处理器”，这个处理器作用的结构称为记忆单元。}
\rchild{m432}{m43}{6202}{一个记忆单元中有三扇门，分别是输入门、遗忘门、输出门}
\rchild{m433}{m43}{6240}{当一个信息进入LSTM之后，可以根据规则来判断是否有用，只有符合算法认证的信息才会留下，不符合的信息则通过遗忘门被遗忘}
\rchild{m434}{m43}{6277}{优点}
\rchild{m4341}{m434}{6277}{LSTM对监控数据的预测准确性较高，充分考虑到时间记忆，符合时序数据的特点，在智能运维领域尤其是趋势预测、动态阈值等方面具有一定的研究价值}
\end{tikzpicture}
\end{document}
